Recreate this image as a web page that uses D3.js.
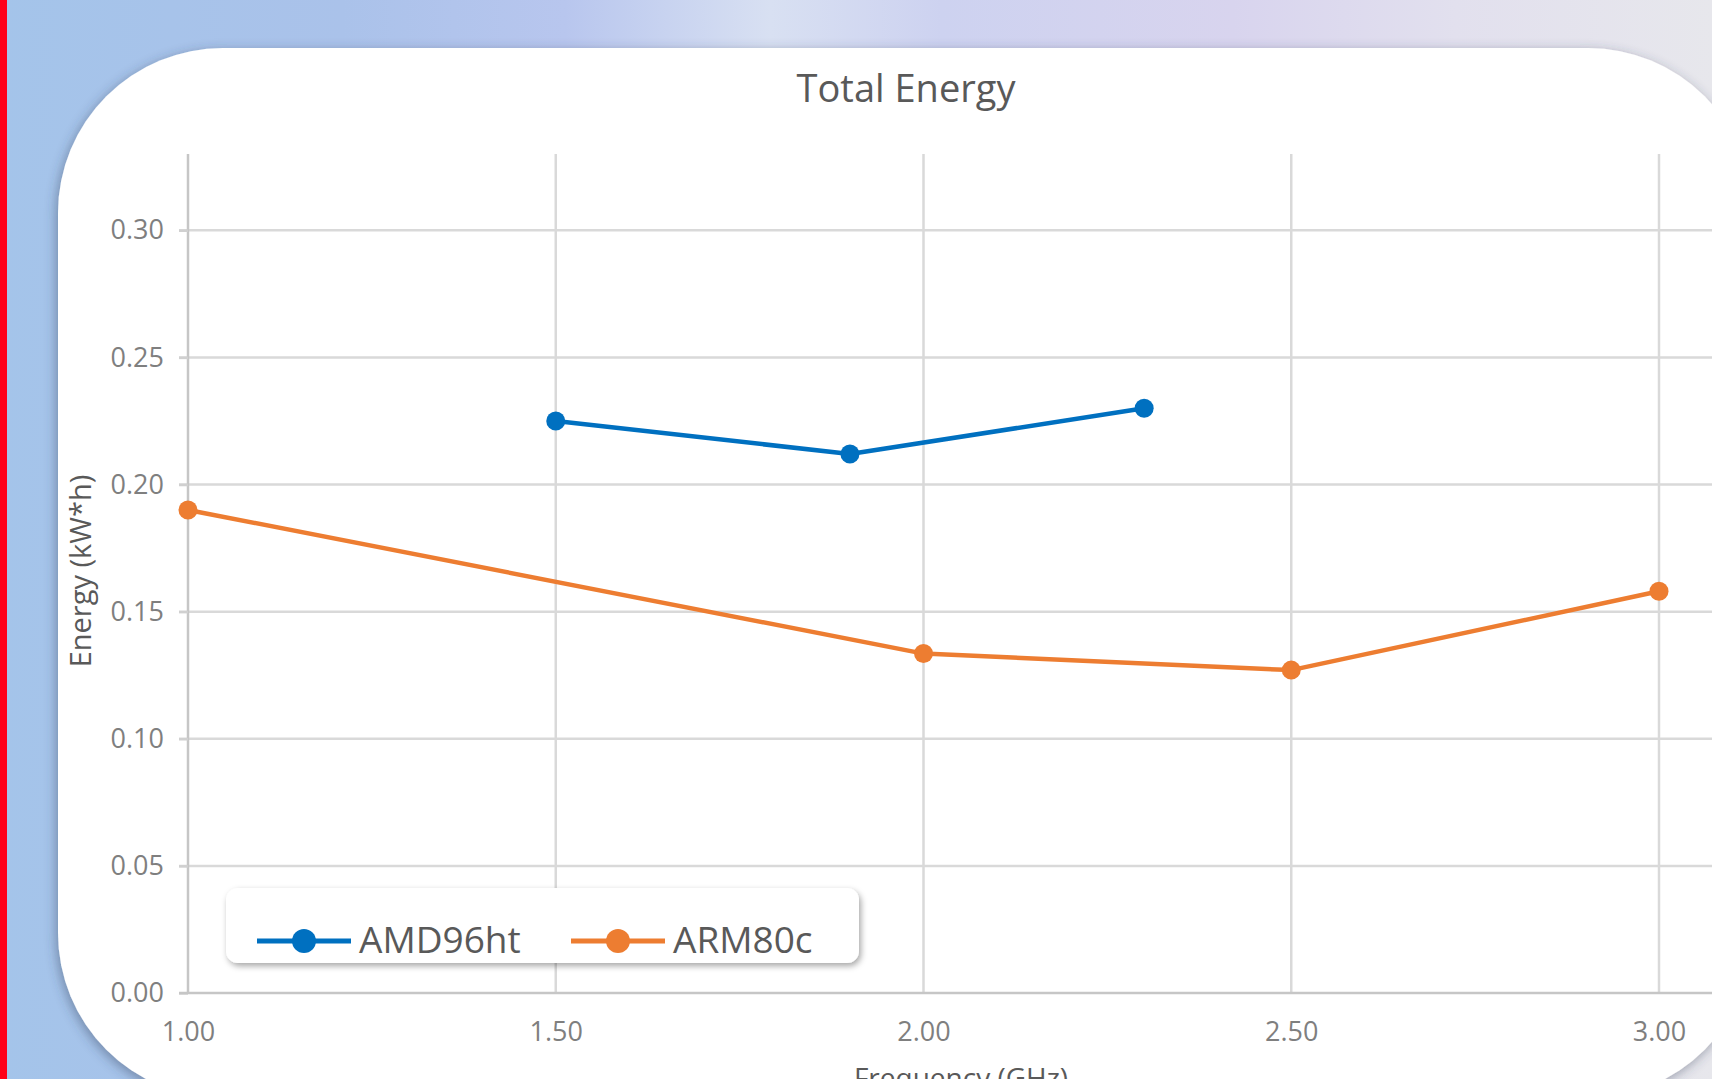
<!DOCTYPE html>
<html>
<head>
<meta charset="utf-8">
<script src="https://cdn.jsdelivr.net/npm/d3@7"></script>
<style>
  html, body { margin: 0; padding: 0; overflow: hidden; background: #fff; }
  svg { display: block; }
  text { font-family: "Open Sans", "Noto Sans", sans-serif; }
</style>
</head>
<body>
<script>
// ---- data ----
const seriesNames = ["AMD96ht", "ARM80c"];
const seriesColors = ["#0070C0", "#ED7D31"];
const amdFreq = [1.5, 1.9, 2.3];
const amdEnergy = [0.225, 0.212, 0.230];
const armFreq = [1.0, 2.0, 2.5, 3.0];
const armEnergy = [0.190, 0.1335, 0.127, 0.158];
const xTicks = [1.0, 1.5, 2.0, 2.5, 3.0];
const yTicks = [0, 0.05, 0.10, 0.15, 0.20, 0.25, 0.30];
const chartTitle = "Total Energy";
const xTitle = "Frequency (GHz)";
const yTitle = "Energy (kW*h)";

const W = 1712, H = 1079;
const svg = d3.select("body").append("svg").attr("width", W).attr("height", H);
const defs = svg.append("defs");

// background gradient
const bg = defs.append("linearGradient").attr("id", "bg").attr("x1", "0").attr("x2", "1").attr("y1", "0").attr("y2", "0");
[["0", "#a4c4ea"], ["0.2", "#aac2ea"], ["0.33", "#b8c6ee"], ["0.45", "#d8e0f2"], ["0.55", "#cdd2f0"], ["0.72", "#d8d4ee"], ["0.85", "#e2e0ee"], ["1", "#e7e7ec"]]
  .forEach(([o, c]) => bg.append("stop").attr("offset", o).attr("stop-color", c));
svg.append("rect").attr("width", W).attr("height", H).attr("fill", "url(#bg)");
svg.append("rect").attr("x", 0).attr("y", 0).attr("width", 7).attr("height", H).attr("fill", "#ff0018");

const sh = defs.append("filter").attr("id", "panelShadow").attr("x", "-10%").attr("y", "-10%").attr("width", "120%").attr("height", "120%");
sh.append("feDropShadow").attr("dx", -2).attr("dy", 3).attr("stdDeviation", 6).attr("flood-color", "#30405a").attr("flood-opacity", 0.45);

const lsh = defs.append("filter").attr("id", "legShadow").attr("x", "-10%").attr("y", "-30%").attr("width", "120%").attr("height", "160%");
lsh.append("feDropShadow").attr("dx", 2).attr("dy", 3).attr("stdDeviation", 3).attr("flood-color", "#000").attr("flood-opacity", 0.35);

// panel
svg.append("rect").attr("x", 58).attr("y", 48).attr("width", 1695).attr("height", 1050)
  .attr("rx", 165).attr("ry", 165).attr("fill", "#fff").attr("filter", "url(#panelShadow)");

// scales
const x = d3.scaleLinear().domain([1, 3.1]).range([188, 188 + 2.1 * 735.5]);
const y = d3.scaleLinear().domain([0, 0.33]).range([993, 154]);

// gridlines
const grid = svg.append("g");
grid.selectAll("line.h").data(yTicks.filter(d => d > 0)).join("line")
  .attr("x1", 179).attr("x2", W).attr("y1", d => y(d)).attr("y2", d => y(d))
  .attr("stroke", "#d9d9d9").attr("stroke-width", 2.5);
grid.selectAll("line.v").data(xTicks.filter(d => d > 1)).join("line")
  .attr("x1", d => x(d)).attr("x2", d => x(d)).attr("y1", y(0.33)).attr("y2", y(0))
  .attr("stroke", "#d9d9d9").attr("stroke-width", 2.5);

// y axis
const yAxis = svg.append("g").attr("transform", `translate(${x(1)},0)`)
  .call(d3.axisLeft(y).tickValues(yTicks).tickFormat(d3.format(".2f")).tickSize(9).tickPadding(15));
yAxis.select(".domain").attr("d", `M0,${y(0.33)}V${y(0)}`).attr("stroke", "#c6c6c6").attr("stroke-width", 2.5);
yAxis.selectAll(".tick line").attr("stroke", "#d0d0d0").attr("stroke-width", 2.5);
yAxis.selectAll(".tick text").attr("fill", "#7f7f7f").attr("font-size", 27).attr("font-family", '"Open Sans", sans-serif');

// x axis
const xAxis = svg.append("g").attr("transform", `translate(0,${y(0)})`)
  .call(d3.axisBottom(x).tickValues(xTicks).tickFormat(d3.format(".2f")).tickSize(0));
xAxis.select(".domain").attr("d", `M179,0H${W}`).attr("stroke", "#c6c6c6").attr("stroke-width", 2.5);
xAxis.selectAll(".tick text").attr("fill", "#7f7f7f").attr("font-size", 27)
  .attr("font-family", '"Open Sans", sans-serif').attr("dy", null).attr("y", 48);

// titles
svg.append("text").attr("x", 906).attr("y", 102).attr("text-anchor", "middle")
  .attr("font-size", 38).attr("fill", "#595959").text(chartTitle);
svg.append("text").attr("transform", "translate(91,571) rotate(-90)").attr("text-anchor", "middle")
  .attr("font-size", 29).attr("fill", "#595959").text(yTitle);
svg.append("text").attr("x", 961).attr("y", 1088).attr("text-anchor", "middle")
  .attr("font-size", 28).attr("fill", "#595959").text(xTitle);

// series
const series = [
  { name: seriesNames[0], color: seriesColors[0], pts: amdFreq.map((f, i) => [f, amdEnergy[i]]) },
  { name: seriesNames[1], color: seriesColors[1], pts: armFreq.map((f, i) => [f, armEnergy[i]]) }
];
const line = d3.line().x(d => x(d[0])).y(d => y(d[1]));
series.forEach(s => {
  svg.append("path").attr("d", line(s.pts)).attr("fill", "none")
    .attr("stroke", s.color).attr("stroke-width", 4.5).attr("stroke-linejoin", "round");
  svg.append("g").selectAll("circle").data(s.pts).join("circle")
    .attr("cx", d => x(d[0])).attr("cy", d => y(d[1])).attr("r", 9.5).attr("fill", s.color);
});

// legend
const leg = svg.append("g");
leg.append("rect").attr("x", 226).attr("y", 888).attr("width", 633).attr("height", 75)
  .attr("rx", 12).attr("fill", "#fff").attr("filter", "url(#legShadow)");
const legX = [257, 571];
series.forEach((s, i) => {
  const gx = legX[i];
  leg.append("line").attr("x1", gx).attr("x2", gx + 94).attr("y1", 941).attr("y2", 941)
    .attr("stroke", s.color).attr("stroke-width", 5);
  leg.append("circle").attr("cx", gx + 47).attr("cy", 941).attr("r", 12).attr("fill", s.color);
  leg.append("text").attr("x", gx + 102).attr("y", 953).attr("font-size", 37).attr("fill", "#595959").text(s.name);
});
</script>
</body>
</html>
